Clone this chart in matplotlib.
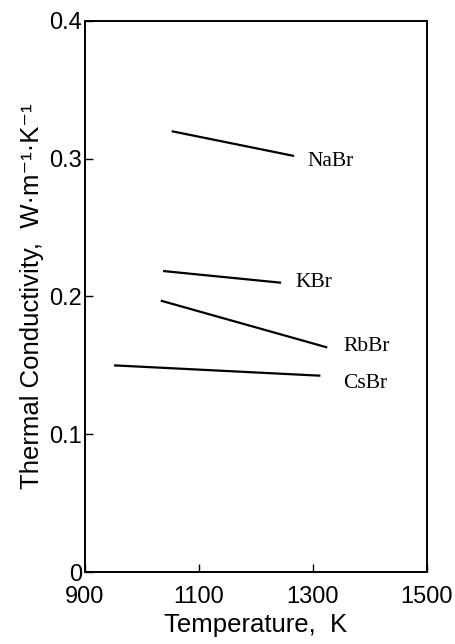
"""
Thermal conductivity of molten alkali bromides vs temperature.
"""

import matplotlib
matplotlib.use("Agg")
import matplotlib.pyplot as plt

# ── Data ──────────────────────────────────────────────────────────
salts = ["NaBr", "KBr", "RbBr", "CsBr"]
temp_ranges = [
    [1052, 1267],
    [1037, 1244],
    [1033, 1325],
    [951, 1313],
]
conductivity = [
    [0.320, 0.302],
    [0.2185, 0.210],
    [0.197, 0.163],
    [0.150, 0.1425],
]
label_pos = [
    (1290, 0.298),
    (1270, 0.210),
    (1353, 0.164),
    (1353, 0.137),
]

x_ticks = [900, 1100, 1300, 1500]
y_ticks = [0, 0.1, 0.2, 0.3, 0.4]
y_ticklabels = ["0", "0.1", "0.2", "0.3", "0.4"]

SANS = ["Liberation Sans", "DejaVu Sans"]
SERIF = ["Liberation Serif", "DejaVu Serif"]

plt.rcParams["font.family"] = SANS

fig = plt.figure(figsize=(4.56, 6.44), dpi=100)
ax = fig.add_axes([0.1864, 0.1118, 0.75, 0.8556])

for name, xs, ys, (lx, ly) in zip(salts, temp_ranges, conductivity, label_pos):
    ax.plot(xs, ys, color="black", lw=1.6, solid_capstyle="butt")
    ax.text(lx, ly, name, family=SERIF, fontsize=15.5, va="center", ha="left")

ax.set_xlim(900, 1500)
ax.set_ylim(0, 0.4)
ax.set_xticks(x_ticks)
ax.set_yticks(y_ticks)
ax.set_yticklabels(y_ticklabels)
ax.tick_params(direction="in", length=6, width=1.0, labelsize=17,
               color="black")
ax.tick_params(axis="x", pad=10)
ax.tick_params(axis="y", pad=2)

for spine in ax.spines.values():
    spine.set_linewidth(1.4)

ax.set_xlabel("Temperature,  K", fontsize=18.5, labelpad=4)
ax.set_ylabel("Thermal Conductivity,  W·m⁻¹·K⁻¹", fontsize=18.5, labelpad=4)

fig.savefig("out.png", dpi=100, facecolor="white")
